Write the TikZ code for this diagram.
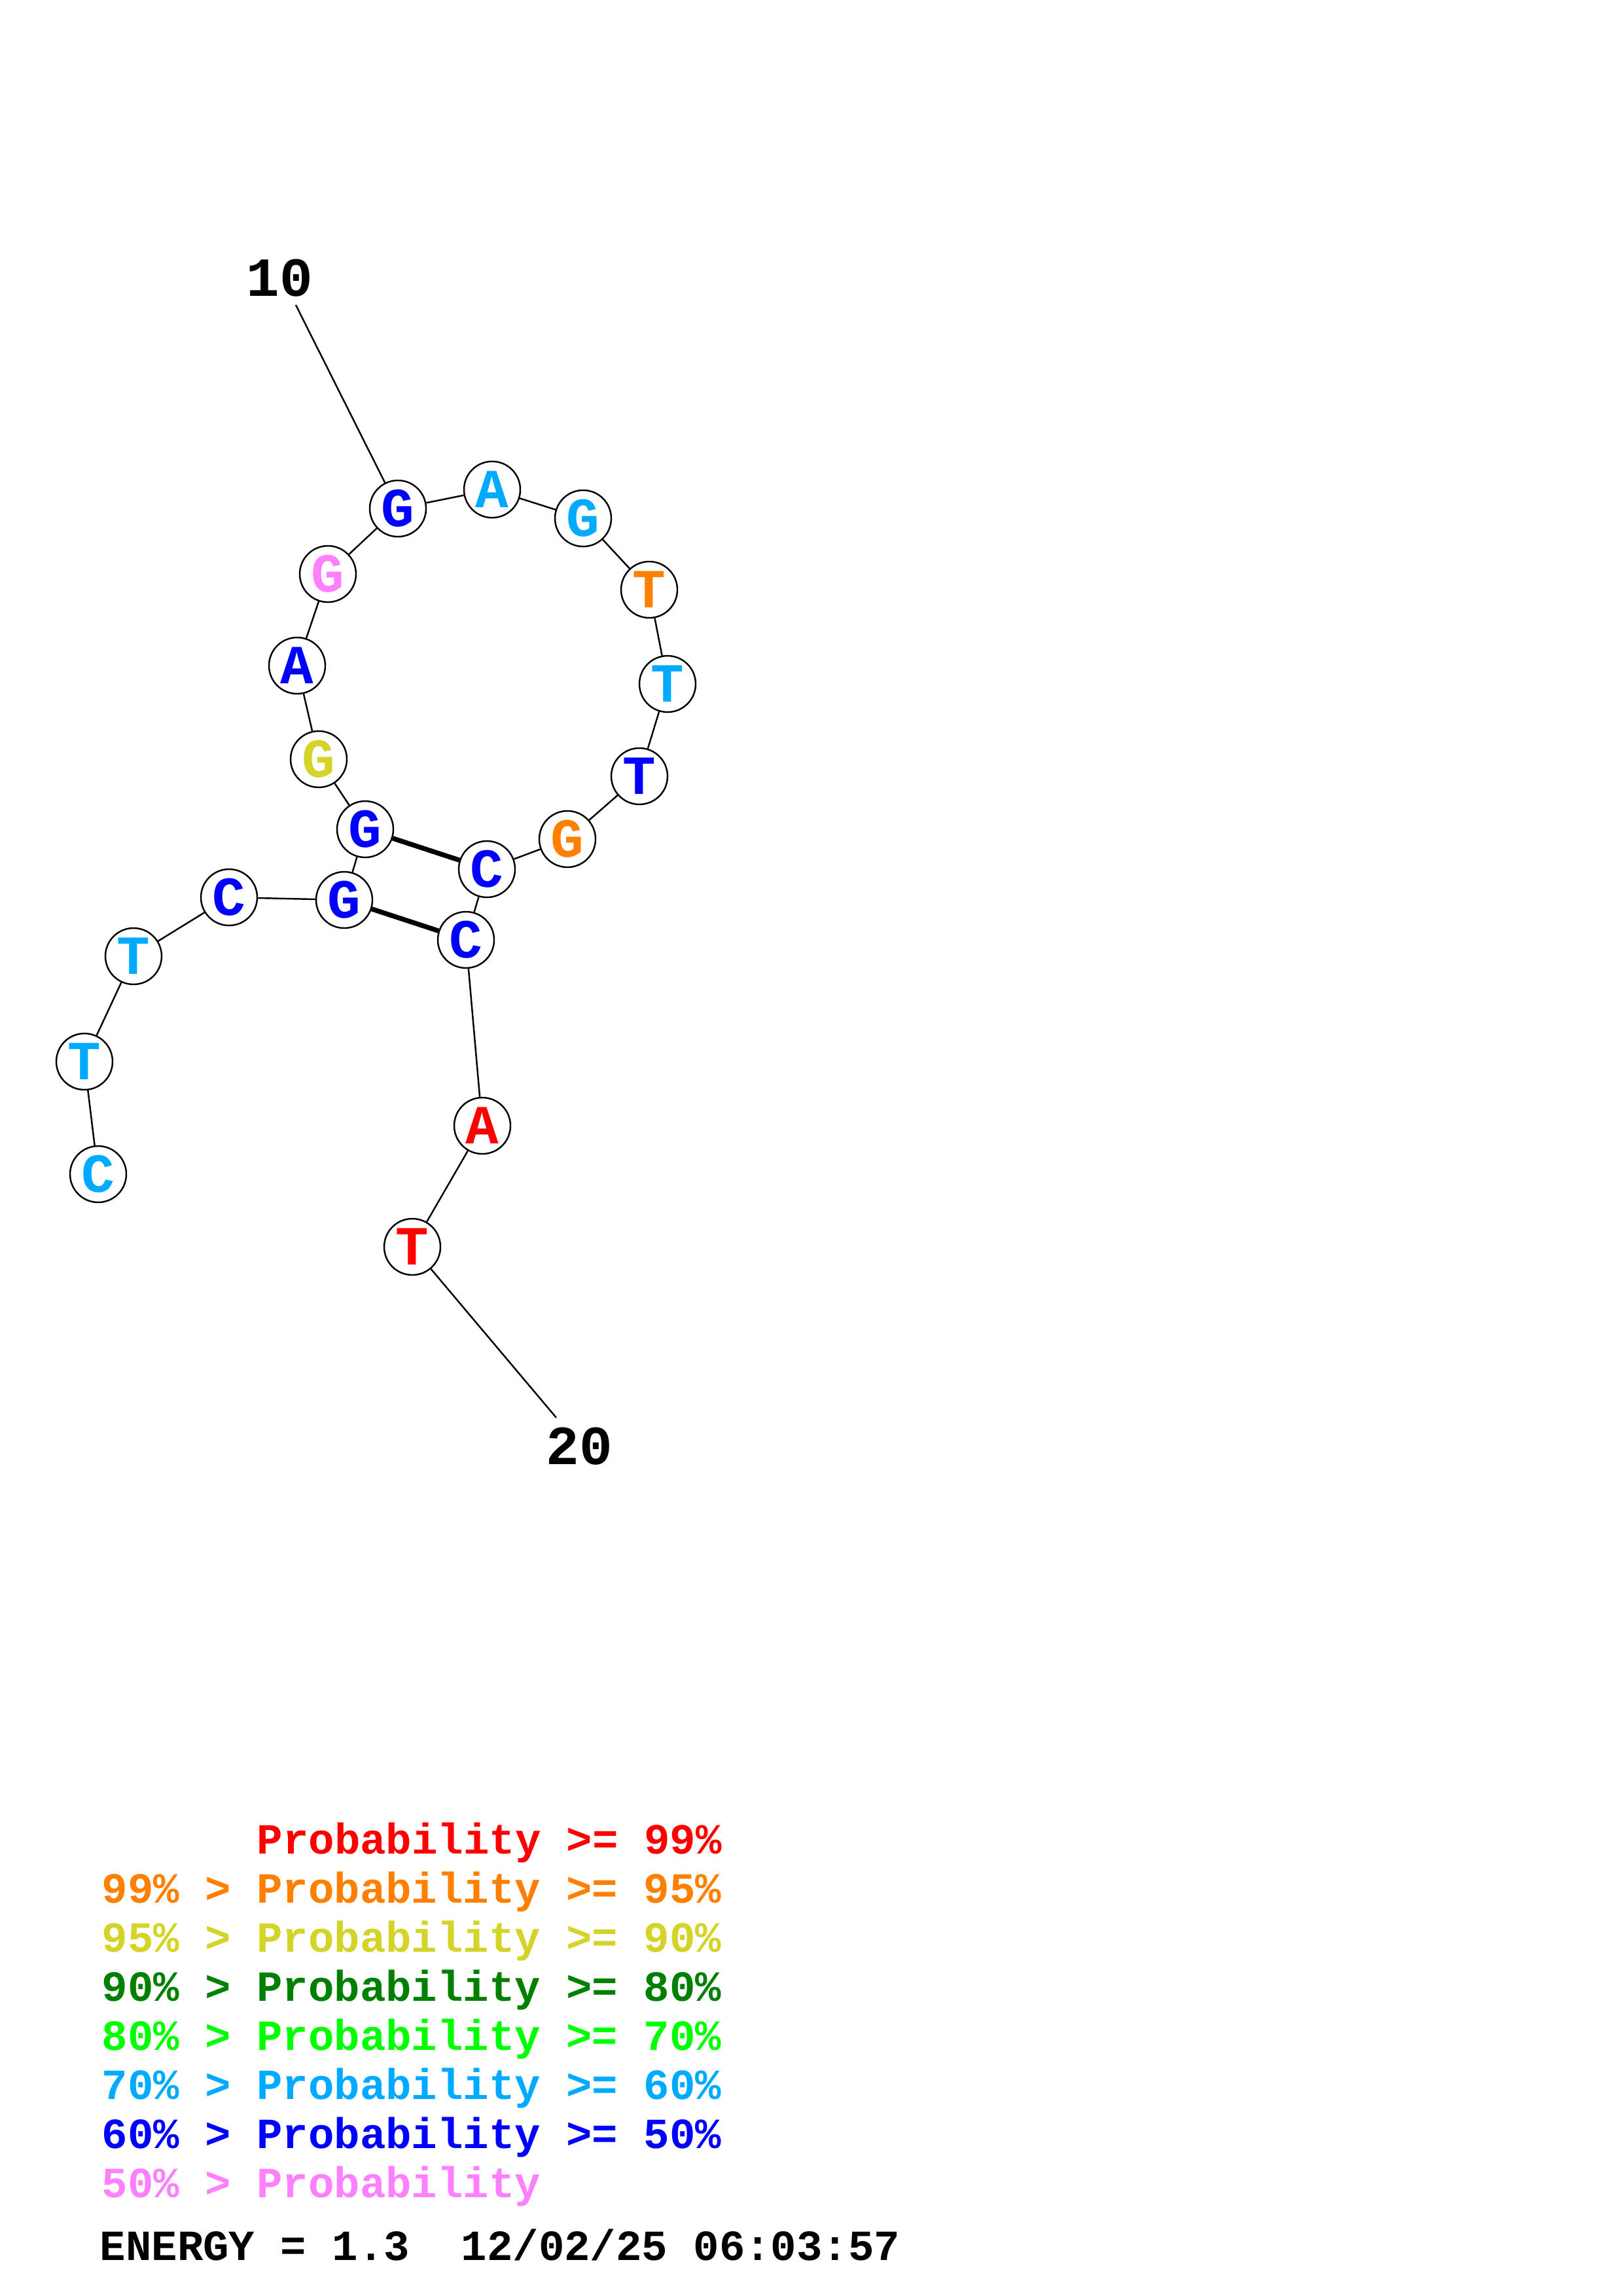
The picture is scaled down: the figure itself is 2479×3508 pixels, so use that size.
\documentclass[tikz,border=0pt]{standalone}
\usepackage{fontspec}
\newfontfamily\monobf[BoldFont={Liberation Mono Bold}]{Liberation Mono}
\definecolor{cRed}{RGB}{255,0,0}
\definecolor{cOrange}{RGB}{255,128,0}
\definecolor{cYellow}{RGB}{212,212,40}
\definecolor{cDkGreen}{RGB}{0,128,0}
\definecolor{cGreen}{RGB}{0,255,0}
\definecolor{cLtBlue}{RGB}{0,170,255}
\definecolor{cBlue}{RGB}{0,0,255}
\definecolor{cPink}{RGB}{255,128,255}
\begin{document}
\begin{tikzpicture}[x=0.1mm,y=-0.1mm,
  nt/.style={circle,draw,fill=white,line width=0.7pt,minimum size=8.6mm,inner sep=0pt,font=\monobf\bfseries\fontsize{24pt}{24pt}\selectfont},
  bb/.style={line width=0.7pt},
  bp/.style={line width=2.1pt},
  num/.style={anchor=base,inner sep=0pt,font=\monobf\bfseries\fontsize{24pt}{24pt}\selectfont},
  lg/.style={anchor=base west,inner sep=0pt,font=\monobf\bfseries\fontsize{18.7pt}{18.7pt}\selectfont}]
\useasboundingbox (0,0) rectangle (2479,3508);
% nucleotides
\node[nt,text=cLtBlue] (n1) at (150,1794) {C};
\node[nt,text=cLtBlue] (n2) at (129,1622) {T};
\node[nt,text=cLtBlue] (n3) at (204,1461) {T};
\node[nt,text=cBlue] (n4) at (350,1371) {C};
\node[nt,text=cBlue] (n5) at (526,1375) {G};
\node[nt,text=cBlue] (n6) at (558,1267) {G};
\node[nt,text=cYellow] (n7) at (487,1160) {G};
\node[nt,text=cBlue] (n8) at (454,1017) {A};
\node[nt,text=cPink] (n9) at (501,877) {G};
\node[nt,text=cBlue] (n10) at (608,777) {G};
\node[nt,text=cLtBlue] (n11) at (752,748) {A};
\node[nt,text=cLtBlue] (n12) at (891,792) {G};
\node[nt,text=cOrange] (n13) at (992,901) {T};
\node[nt,text=cLtBlue] (n14) at (1020,1045) {T};
\node[nt,text=cBlue] (n15) at (977,1186) {T};
\node[nt,text=cOrange] (n16) at (867,1282) {G};
\node[nt,text=cBlue] (n17) at (744,1328) {C};
\node[nt,text=cBlue] (n18) at (712,1436) {C};
\node[nt,text=cRed] (n19) at (737,1720) {A};
\node[nt,text=cRed] (n20) at (630,1905) {T};
% backbone
\foreach \a/\b in {1/2,2/3,3/4,4/5,5/6,6/7,7/8,8/9,9/10,10/11,11/12,12/13,13/14,14/15,15/16,16/17,17/18,18/19,19/20}
  \draw[bb] (n\a) -- (n\b);
% base pairs
\draw[bp] (n6) -- (n17);
\draw[bp] (n5) -- (n18);
% position labels
\node[num] (l10) at (427,453) {10};
\coordinate (e10) at (452,466);
\draw[bb] (e10) -- (n10);
\node[num] (l20) at (885,2237) {20};
\coordinate (e20) at (850,2166);
\draw[bb] (n20) -- (e20);
% legend
\node[lg,text=cRed] (g1) at (392,2832) {Probability >= 99\%};
\node[lg,text=cOrange] (g2) at (155,2907) {99\% > Probability >= 95\%};
\node[lg,text=cYellow] (g3) at (155,2982) {95\% > Probability >= 90\%};
\node[lg,text=cDkGreen] (g4) at (155,3057) {90\% > Probability >= 80\%};
\node[lg,text=cGreen] (g5) at (155,3132) {80\% > Probability >= 70\%};
\node[lg,text=cLtBlue] (g6) at (155,3207) {70\% > Probability >= 60\%};
\node[lg,text=cBlue] (g7) at (155,3282) {60\% > Probability >= 50\%};
\node[lg,text=cPink] (g8) at (155,3357) {50\% > Probability};
\node[lg,text=black] (en) at (152,3453) {ENERGY = 1.3~~12/02/25 06:03:57};
\end{tikzpicture}
\end{document}
